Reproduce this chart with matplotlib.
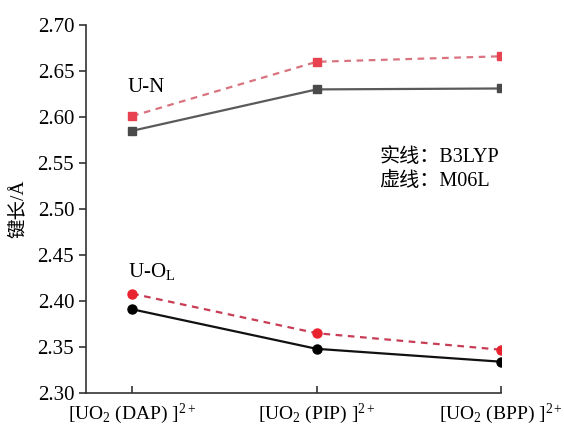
import numpy as np
import matplotlib
matplotlib.use("Agg")
import matplotlib.pyplot as plt

plt.rcParams['font.family'] = ['Liberation Serif', 'DejaVu Serif', 'Noto Sans CJK SC']
plt.rcParams['mathtext.fontset'] = 'custom'
plt.rcParams['mathtext.rm'] = 'Liberation Serif'
plt.rcParams['mathtext.it'] = 'Liberation Serif:italic'

# 数据
complejos = ['[UO$_2$ (DAP) ]$^{2+}$', '[UO$_2$ (PIP) ]$^{2+}$', '[UO$_2$ (BPP) ]$^{2+}$']
un_b3lyp = [2.585, 2.630, 2.631]
un_m06l = [2.601, 2.660, 2.666]
uo_b3lyp = [2.391, 2.348, 2.334]
uo_m06l = [2.408, 2.365, 2.347]

x = np.arange(len(complejos))

fig = plt.figure(figsize=(5.64, 4.26), dpi=100)
ax = fig.add_axes([0.1525, 0.0775, 0.736, 0.8638])

ax.plot(x, un_b3lyp, color='#5a5a5a', lw=1.6, marker='s', ms=6, mfc='#4a4a4a', mec='#4a4a4a')
ax.plot(x, un_m06l, color='#d9737f', lw=1.6, ls=(0, (3, 2.5)), marker='s', ms=6,
        mfc='#e8414f', mec='#e8414f')
ax.plot(x, uo_b3lyp, color='#111111', lw=1.6, marker='o', ms=6.5, mfc='black', mec='black')
ax.plot(x, uo_m06l, color='#c83c55', lw=1.6, ls=(0, (3, 2.5)), marker='o', ms=6.5,
        mfc='#e8232e', mec='#e8232e')

ax.text(-0.025, 2.632, 'U-N', fontsize=15, ha='left', va='center')
ax.text(-0.025, 2.432, 'U-O$_\\mathregular{L}$', fontsize=15, ha='left', va='center')
ax.text(1.34, 2.556, '实线：B3LYP', fontsize=14.5, ha='left', va='center')
ax.text(1.34, 2.530, '虚线：M06L', fontsize=14.5, ha='left', va='center')

ax.set_xlim(-0.25, 2.0)
ax.set_ylim(2.30, 2.70)
ax.set_yticks(np.arange(2.30, 2.701, 0.05))
ax.set_yticklabels(['%.2f' % v for v in np.arange(2.30, 2.701, 0.05)])
ax.set_xticks(x)
ax.set_xticklabels(complejos)
ax.set_ylabel('键长/Å', fontsize=14, labelpad=8)

ax.spines['top'].set_visible(False)
ax.spines['right'].set_visible(False)
for s in ['left', 'bottom']:
    ax.spines[s].set_color('#333333')
    ax.spines[s].set_linewidth(1.2)
ax.tick_params(axis='y', direction='out', length=5, width=1.2, labelsize=15, color='#333333')
ax.tick_params(axis='x', direction='in', length=5, width=1.2, labelsize=14, color='#333333', pad=6)

fig.savefig('out.png', dpi=100)
